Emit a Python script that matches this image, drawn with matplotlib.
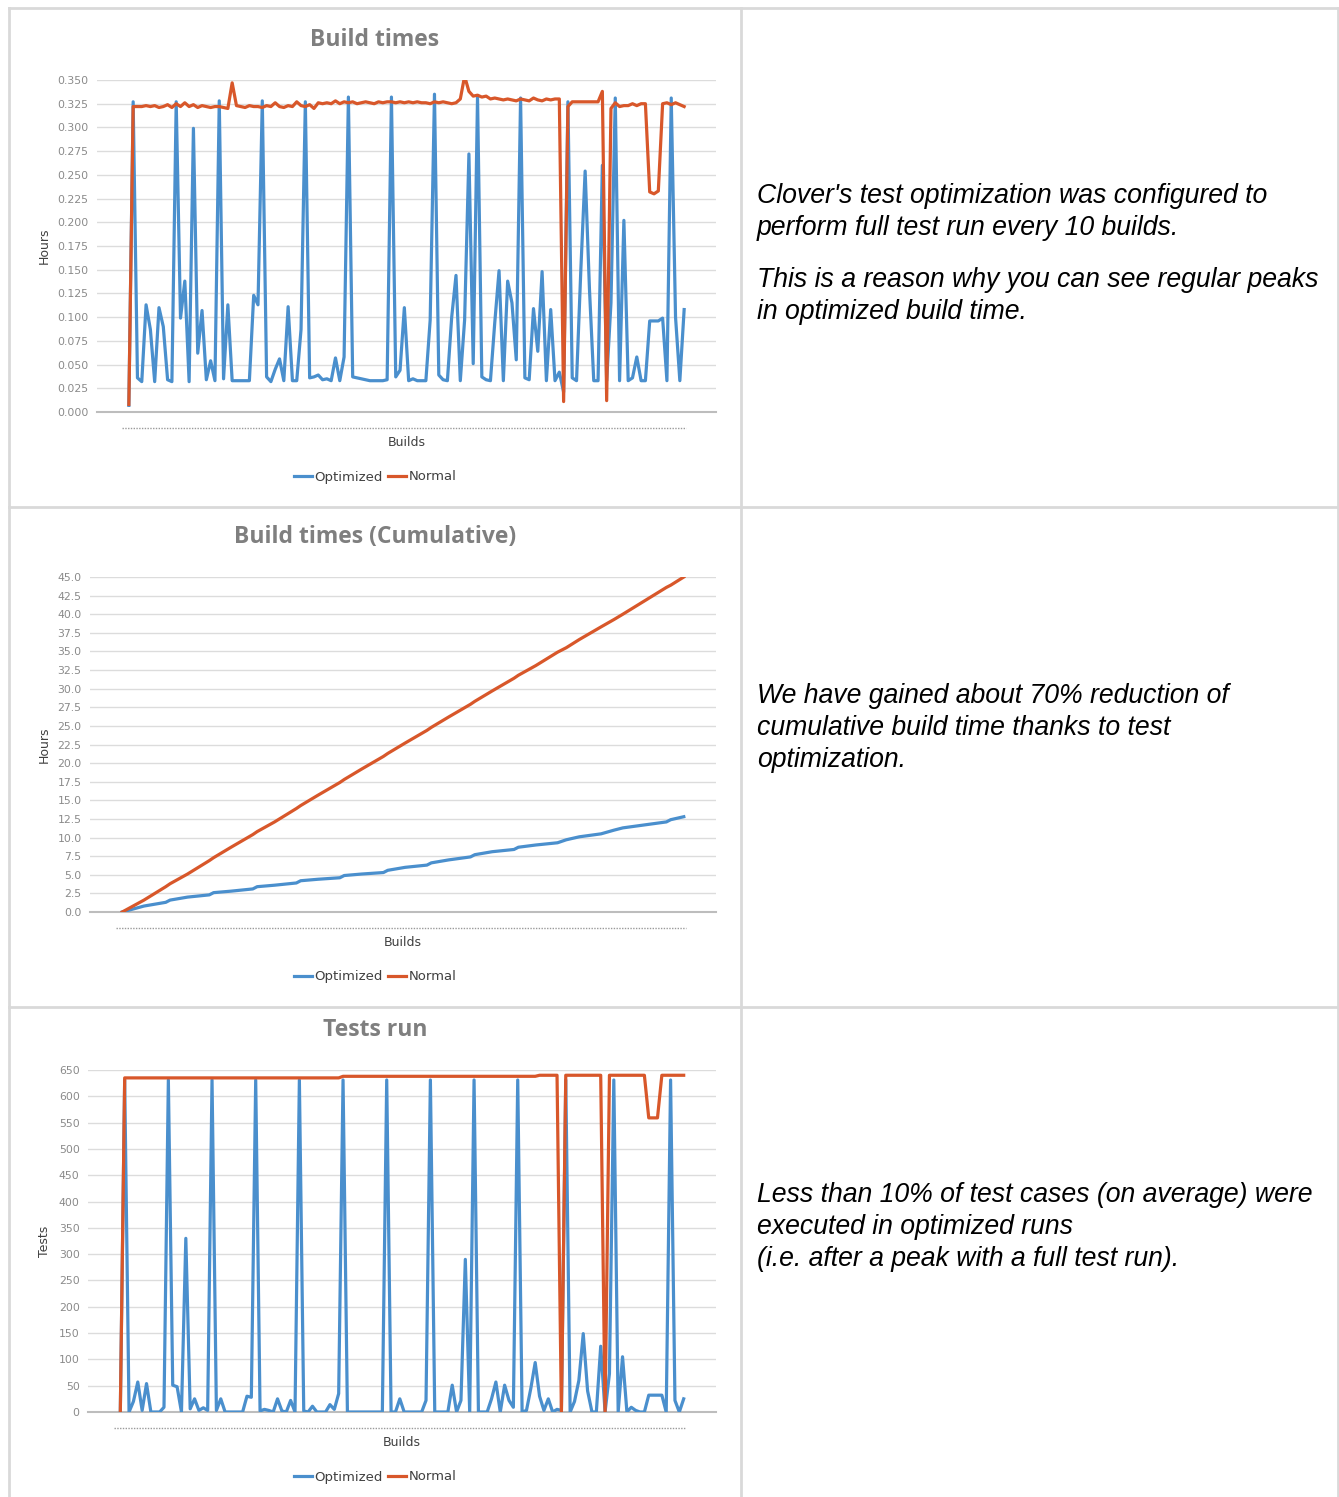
import numpy as np
import matplotlib.pyplot as plt
from matplotlib.lines import Line2D
from matplotlib.ticker import MultipleLocator, FormatStrFormatter

# build times (hours), one value per build
opt_time = [0.007, 0.327, 0.036, 0.032, 0.113, 0.087, 0.032, 0.110, 0.090, 0.034,
            0.032, 0.327, 0.099, 0.138, 0.032, 0.299, 0.062, 0.107, 0.034, 0.054,
            0.033, 0.328, 0.035, 0.113, 0.033, 0.033, 0.033, 0.033, 0.033, 0.123,
            0.113, 0.328, 0.037, 0.032, 0.045, 0.056, 0.033, 0.111, 0.033, 0.033,
            0.087, 0.327, 0.036, 0.037, 0.039, 0.034, 0.035, 0.033, 0.057, 0.033,
            0.058, 0.332, 0.037, 0.036, 0.035, 0.034, 0.033, 0.033, 0.033, 0.033,
            0.034, 0.332, 0.037, 0.044, 0.110, 0.033, 0.035, 0.033, 0.033, 0.033,
            0.097, 0.335, 0.039, 0.034, 0.033, 0.100, 0.144, 0.033, 0.097, 0.272,
            0.051, 0.332, 0.037, 0.034, 0.033, 0.094, 0.149, 0.033, 0.138, 0.115,
            0.055, 0.331, 0.036, 0.034, 0.109, 0.064, 0.148, 0.033, 0.108, 0.033,
            0.042, 0.021, 0.327, 0.036, 0.033, 0.150, 0.254, 0.130, 0.033, 0.033,
            0.260, 0.033, 0.115, 0.331, 0.033, 0.202, 0.033, 0.036, 0.058, 0.033,
            0.033, 0.096, 0.096, 0.096, 0.099, 0.033, 0.331, 0.100, 0.033, 0.108]
norm_time = [0.008, 0.322, 0.322, 0.322, 0.323, 0.322, 0.323, 0.321, 0.322, 0.324,
             0.321, 0.325, 0.322, 0.326, 0.322, 0.324, 0.321, 0.323, 0.322, 0.321,
             0.322, 0.322, 0.321, 0.320, 0.347, 0.323, 0.322, 0.321, 0.323, 0.322,
             0.322, 0.321, 0.323, 0.322, 0.326, 0.322, 0.321, 0.323, 0.322, 0.327,
             0.323, 0.322, 0.324, 0.320, 0.326, 0.325, 0.326, 0.325, 0.328, 0.325,
             0.327, 0.326, 0.327, 0.325, 0.326, 0.327, 0.326, 0.325, 0.327, 0.326,
             0.327, 0.327, 0.326, 0.327, 0.326, 0.327, 0.326, 0.327, 0.326, 0.326,
             0.325, 0.327, 0.326, 0.327, 0.326, 0.325, 0.326, 0.330, 0.354, 0.338,
             0.333, 0.334, 0.332, 0.333, 0.330, 0.331, 0.330, 0.329, 0.330, 0.329,
             0.328, 0.330, 0.329, 0.328, 0.331, 0.329, 0.328, 0.330, 0.329, 0.330,
             0.330, 0.011, 0.322, 0.327, 0.327, 0.327, 0.327, 0.327, 0.327, 0.327,
             0.338, 0.012, 0.320, 0.326, 0.322, 0.323, 0.323, 0.325, 0.323, 0.325,
             0.325, 0.232, 0.230, 0.233, 0.325, 0.326, 0.324, 0.326, 0.324, 0.322]

# cumulative hours at selected builds
cum_builds = [0, 5, 10, 11, 15, 20, 21, 25, 30, 31, 35, 40, 41, 45, 50, 51, 55,
              60, 61, 65, 70, 71, 75, 80, 81, 85, 90, 91, 95, 100, 102, 105, 110,
              113, 115, 120, 125, 126, 129]
cum_opt = [0, 0.8, 1.3, 1.6, 2.0, 2.3, 2.6, 2.8, 3.1, 3.4, 3.6, 3.9, 4.2, 4.4,
           4.6, 4.9, 5.1, 5.3, 5.6, 6.0, 6.3, 6.6, 7.0, 7.4, 7.7, 8.1, 8.4, 8.7,
           9.0, 9.3, 9.7, 10.1, 10.5, 11.0, 11.3, 11.7, 12.1, 12.4, 12.8]
cum_norm = [0, 1.6, 3.4, 3.8, 5.1, 6.9, 7.3, 8.7, 10.4, 10.8, 12.1, 13.9, 14.3,
            15.7, 17.4, 17.8, 19.2, 20.9, 21.3, 22.7, 24.4, 24.8, 26.2, 27.9,
            28.3, 29.7, 31.4, 31.8, 33.1, 34.9, 35.5, 36.6, 38.3, 39.3, 40.0,
            41.8, 43.6, 43.9, 45.0]

# tests run per build
opt_tests = [0, 631, 0, 20, 57, 3, 54, 0, 0, 0,
             9, 631, 51, 48, 0, 330, 6, 25, 3, 8,
             3, 631, 3, 25, 0, 0, 0, 0, 0, 30,
             28, 631, 2, 5, 3, 0, 25, 2, 0, 22,
             0, 631, 2, 0, 11, 0, 0, 0, 14, 5,
             35, 631, 0, 0, 0, 0, 0, 0, 0, 0,
             0, 631, 0, 0, 25, 0, 0, 0, 0, 0,
             22, 631, 0, 0, 0, 0, 51, 0, 22, 290,
             0, 631, 0, 0, 0, 25, 57, 0, 51, 22,
             9, 631, 0, 3, 45, 94, 30, 3, 25, 0,
             5, 3, 631, 0, 20, 60, 149, 40, 0, 0,
             125, 0, 73, 631, 0, 105, 0, 9, 3, 0,
             0, 32, 32, 32, 32, 0, 631, 22, 0, 25]
norm_tests = [0] + [635] * 50 + [638] * 45 + [640] * 5 + [0] + [640] * 9 + [0] \
             + [640] * 9 + [559, 559, 559] + [640] * 6

BLUE = '#4a8fcd'
ORANGE = '#d8572a'
W, H = 1339, 1497

fig = plt.figure(figsize=(W / 100, H / 100), dpi=100)
fig.patch.set_facecolor('white')


def rect(l, t, r, b):
    return [l / W, 1 - b / H, (r - l) / W, (b - t) / H]


def chart(box, title, ytitle, ymax, step, fmt, opt_x, opt_y, norm_x, norm_y):
    ax = fig.add_axes(rect(*box))
    ax.plot(opt_x, opt_y, color=BLUE, lw=2.3, label='Optimized', zorder=3)
    ax.plot(norm_x, norm_y, color=ORANGE, lw=2.3, label='Normal', zorder=4)
    ax.set_xlim(-7.4, 136.4)
    ax.set_ylim(0, ymax)
    ax.yaxis.set_major_locator(MultipleLocator(step))
    ax.yaxis.set_major_formatter(FormatStrFormatter(fmt))
    ax.set_xticks([])
    ax.grid(axis='y', color='#dcdcdc', lw=1)
    ax.set_axisbelow(True)
    for s in ['top', 'right', 'left']:
        ax.spines[s].set_visible(False)
    ax.spines['bottom'].set_color('#bdbdbd')
    ax.spines['bottom'].set_linewidth(1.5)
    ax.tick_params(axis='y', length=0, pad=6, labelsize=7.8, labelcolor='#8a8a8a')
    # dotted category tick row under the axis
    ax.plot([-1.5, 129.5], [-0.048 * ymax] * 2, color='#9a9a9a', lw=1,
            ls=(0, (1, 1.0)), clip_on=False)
    l, t, r, b = box
    fig.text(375 / W, 1 - (t - 40) / H, title, ha='center', va='center',
             fontsize=16.5, fontweight='bold', color='#7f7f7f', family='Open Sans')
    fig.text(44 / W, 1 - (t + b) / 2 / H, ytitle, rotation=90, ha='center',
             va='center', fontsize=9, color='#404040')
    fig.text((l + r) / 2 / W, 1 - (b + 30) / H, 'Builds', ha='center',
             va='center', fontsize=9, color='#404040')
    ax.legend(loc='center', bbox_to_anchor=(375 / W, 1 - (b + 65) / H),
              bbox_transform=fig.transFigure, ncol=2, frameon=False,
              fontsize=9.5, handlelength=1.4, handletextpad=0.15,
              columnspacing=0.4, labelcolor='#404040')
    return ax


chart((97, 80, 716, 412), 'Build times', 'Hours', 0.35, 0.025, '%.3f',
      np.arange(len(opt_time)), opt_time, np.arange(len(norm_time)), norm_time)
chart((90, 577, 716, 912), 'Build times (Cumulative)', 'Hours', 45, 2.5, '%.1f',
      cum_builds, cum_opt, cum_builds, cum_norm)
chart((88, 1070, 716, 1412), 'Tests run', 'Tests', 650, 50, '%d',
      np.arange(len(opt_tests)), opt_tests, np.arange(len(norm_tests)), norm_tests)

# table borders
for x in [9, 741, 1338]:
    fig.add_artist(Line2D([x / W] * 2, [0, 1 - 8 / H], color='#d9d9d9', lw=2))
for y in [8, 507, 1007]:
    fig.add_artist(Line2D([9 / W, 1338 / W], [1 - y / H] * 2, color='#d9d9d9', lw=2))

notes = [
    (196, ["Clover's test optimization was configured to",
           "perform full test run every 10 builds."]),
    (280, ["This is a reason why you can see regular peaks",
           "in optimized build time."]),
    (696, ["We have gained about 70% reduction of",
           "cumulative build time thanks to test",
           "optimization."]),
    (1195, ["Less than 10% of test cases (on average) were",
            "executed in optimized runs",
            "(i.e. after a peak with a full test run)."]),
]
for y0, lines in notes:
    for i, line in enumerate(lines):
        fig.text(757 / W, 1 - (y0 + 32 * i) / H, line, ha='left', va='center',
                 fontsize=19.2, style='italic', family='Liberation Sans',
                 color='black')

fig.savefig('out.png', dpi=100)
